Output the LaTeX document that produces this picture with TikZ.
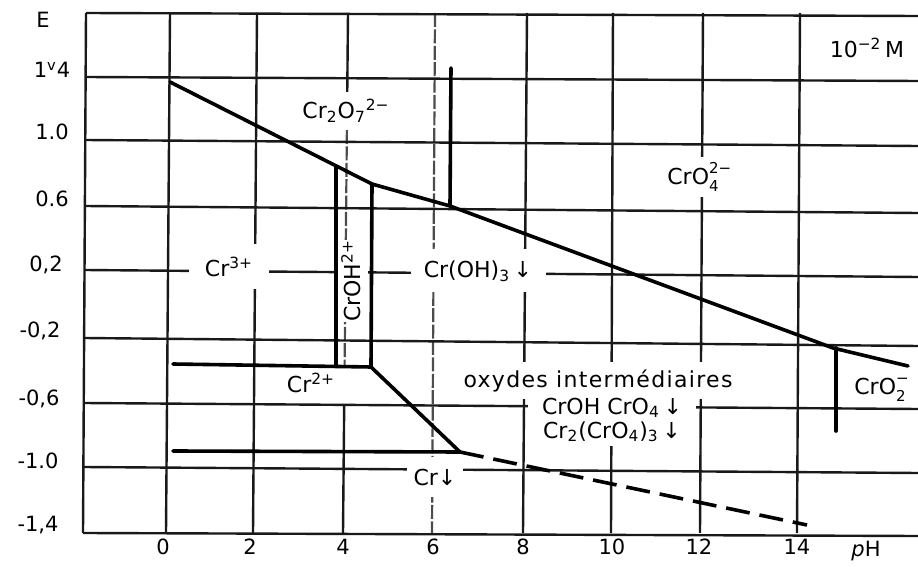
\documentclass[tikz,border=0pt]{standalone}
\usepackage{fontspec}
\setmainfont{DejaVu Sans}
\newcommand\chsub[1]{\textsubscript{#1}}
\newcommand\chsup[1]{\textsuperscript{#1}}
\newcommand\chboth[2]{\makebox[0pt][l]{\raisebox{5.5pt}{\fontsize{7.5}{8}\selectfont #2}}\raisebox{-3.5pt}{\fontsize{7.5}{8}\selectfont #1}}
\tikzset{
  gridline/.style={line width=1.2pt, black!90},
  gridlight/.style={line width=1.1pt, black!70, dash pattern=on 7pt off 1.2pt},
  bound/.style={line width=1.8pt, black, line cap=round, line join=round},
  bounddash/.style={line width=1.8pt, black, dash pattern=on 12pt off 5pt},
  lbl/.style={font=\fontsize{11}{13}\selectfont, inner sep=0pt},
  mask/.style={fill=white},
  ax/.style={font=\fontsize{10.5}{12}\selectfont, inner sep=0pt}
}
\begin{document}
\begin{tikzpicture}[x=0.5pt,y=-0.5pt]
\useasboundingbox (0,0) rectangle (918,567);
% vertical grid lines
\foreach \a/\b in {86/83,170/166,257/253,527/523,613/611,703/700,800/797}
  \draw[gridline] (\a,13) -- (\b,533);
\draw[gridline] (348,13) -- (346.9,130);
\draw[gridlight] (346.9,130) -- (344.6,365);
\draw[gridline] (344.2,405) -- (343,533);
\draw[gridlight] (435,13) -- (432,533);
% horizontal grid lines
\foreach \xa/\a/\b in {86/13/16,85.6/77/81,85.3/140/146,84.9/206/213,84.5/270/277,84.1/338/346,83.8/403/409,83.4/467/473,83/533/536}
  \draw[gridline] (\xa,\a) -- (918,\b);
% region labels (white boxes interrupt the grid)
\node[lbl,mask,minimum width=51pt,minimum height=19pt] (cr2o7) at (346,111) {Cr\chsub{2}O\chsub{7}\chsup{2−}};
\node[lbl,mask,minimum width=45pt,minimum height=20pt] (cro4) at (693,177) {CrO\chboth{4}{2−}\hspace{9pt}};
\node[lbl] (conc) at (867,48) {10\chsup{−2}\,M};
\node[lbl,mask,minimum width=40pt,minimum height=22.5pt] (cr3) at (229,267) {Cr\chsup{3+}};
\node[lbl,mask,rotate=90,minimum width=38pt,minimum height=17pt] (croh) at (351,281) {CrOH\chsup{2+}};
\node[lbl,mask,minimum width=67.5pt,minimum height=21.5pt] (croh3) at (478,271) {Cr(OH)\chsub{3}\,↓};
\node[lbl] (cr2) at (311,383) {Cr\chsup{2+}};
\node[lbl,mask,minimum width=146pt,minimum height=18.5pt] (oxy) at (598,381) {\addfontfeature{LetterSpace=6}oxydes intermédiaires};
\node[lbl,mask,minimum width=84pt,minimum height=26pt,align=center] (mix) at (612,420) {CrOH CrO\chsub{4}\,↓\\[-1pt]Cr\chsub{2}(CrO\chsub{4})\chsub{3}\,↓};
\node[lbl,mask,minimum width=28pt,minimum height=20pt] (cr) at (435,477) {Cr↓};
\node[lbl] (cro2) at (880,390) {CrO\chboth{2}{−}\hspace{5pt}};
% boundaries
\coordinate (m0) at (170,82);
\coordinate (m1) at (372,184);
\coordinate (m2) at (450,206);
\coordinate (m3) at (833,348);
\coordinate (m4) at (908,366);
\draw[bound] (m0) -- (m1) -- (m2) -- (m3) -- (m4);
\coordinate (v6t) at (451,68);
\draw[bound] (v6t) -- (m2);
\coordinate (rl) at (336,167);
\coordinate (rlb) at (336,366);
\coordinate (rrb) at (371,367);
\draw[bound] (rl) -- (rlb);
\draw[bound] (m1) -- (rrb);
\coordinate (h1) at (173,364);
\draw[bound] (h1) -- (rrb);
\coordinate (d1) at (460,452);
\draw[bound] (rrb) -- (d1);
\coordinate (h2) at (173,451);
\draw[bound] (h2) -- (d1);
\coordinate (dend) at (807,525);
\draw[bounddash] (d1) -- (dend);
\coordinate (c2t) at (836,348);
\coordinate (c2b) at (836,431);
\draw[bound] (c2t) -- (c2b);
% axes labels
\node[ax] (E) at (43,20) {E};
\node[ax] (y14) at (52,70) {1\textsuperscript{v}4};
\node[ax] (y10) at (52,132) {1.0};
\node[ax] (y06) at (52,199) {0.6};
\node[ax] (y02) at (46,265) {0,2};
\node[ax] (ym02) at (40,331) {-0,2};
\node[ax] (ym06) at (39,399) {-0,6};
\node[ax] (ym10) at (38,461) {-1.0};
\node[ax] (ym14) at (38,525) {-1,4};
\foreach \n/\x in {0/163,2/250,4/343,6/433,8/523,10/612,12/699,14/797}
  \node[ax] (x\n) at (\x,547) {\n};
\node[ax] (pH) at (866,551) {\textit{p}H};
\end{tikzpicture}
\end{document}
